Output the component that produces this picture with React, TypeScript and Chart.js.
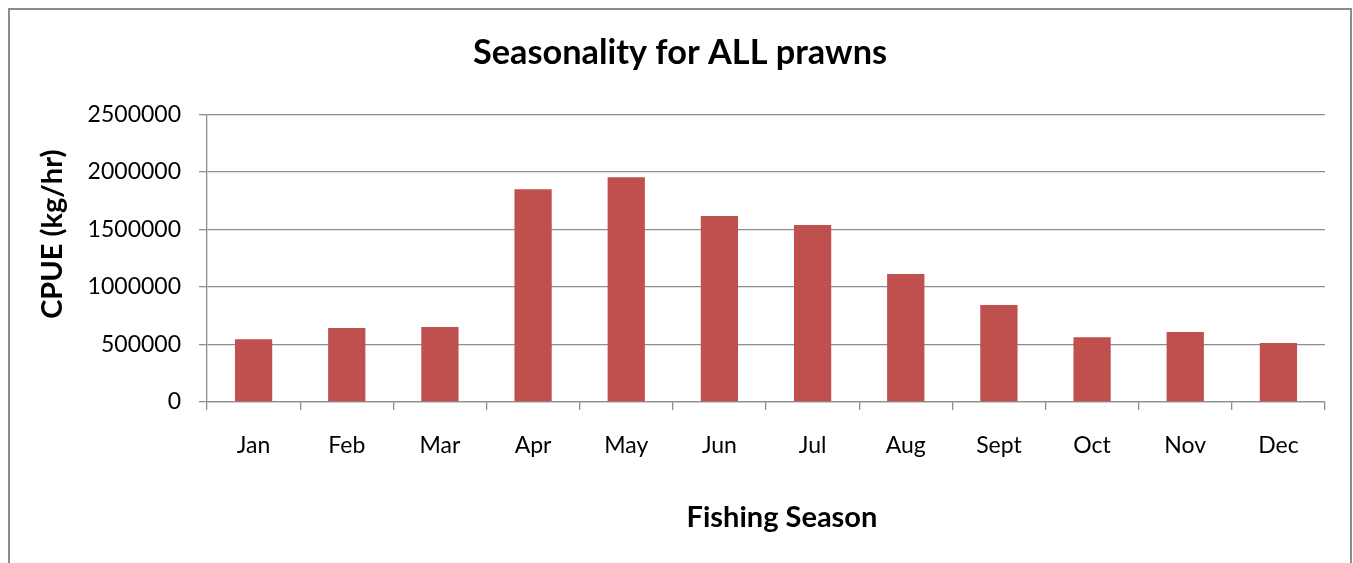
import React, { useEffect, useRef } from "react";
import { Chart, registerables } from "chart.js";

Chart.register(...registerables);

// Monthly catch per unit effort for all prawn species
const months = ["Jan", "Feb", "Mar", "Apr", "May", "Jun", "Jul", "Aug", "Sept", "Oct", "Nov", "Dec"];
const cpue = [545000, 643000, 652000, 1850000, 1954000, 1617000, 1539000, 1113000, 843000, 563000, 609000, 513000];
const yTicks = [0, 500000, 1000000, 1500000, 2000000, 2500000];

const chartTitle = "Seasonality for ALL prawns";
const xTitle = "Fishing Season";
const yTitle = "CPUE (kg/hr)";

const FONT = "Lato, 'Open Sans', sans-serif";
const BAR = "#C0504D";
const GRID = "#8e8e8e";

// Axis titles are placed relative to the plot area
const axisTitles = {
  id: "axisTitles",
  afterDraw(chart: any) {
    const { ctx, chartArea } = chart;
    ctx.save();
    ctx.fillStyle = "#000";
    ctx.font = `bold 29px ${FONT}`;
    ctx.textAlign = "center";
    ctx.textBaseline = "alphabetic";
    ctx.fillText(xTitle, (chartArea.left + chartArea.right) / 2 + 16, chartArea.bottom + 125);
    ctx.translate(chartArea.left - 145.5, (chartArea.top + chartArea.bottom) / 2 - 24);
    ctx.rotate(-Math.PI / 2);
    ctx.fillText(yTitle, 0, 0);
    ctx.restore();
  },
};

export default function App() {
  const canvasRef = useRef<HTMLCanvasElement | null>(null);

  useEffect(() => {
    const canvas = canvasRef.current;
    if (!canvas) return;
    const chart = new Chart(canvas, {
      type: "bar",
      data: {
        labels: months,
        datasets: [
          {
            data: cpue,
            backgroundColor: BAR,
            borderWidth: 0,
            barPercentage: 0.4,
            categoryPercentage: 1.0,
          },
        ],
      },
      options: {
        responsive: false,
        animation: false,
        layout: { padding: { left: 25, right: 25, top: 0, bottom: 0 } },
        plugins: {
          legend: { display: false },
          tooltip: { enabled: false },
          title: {
            display: true,
            text: chartTitle,
            color: "#000",
            font: { family: FONT, size: 34.3, weight: "bold", lineHeight: 1.2 },
            padding: { top: 22, bottom: 41.3 },
          },
        },
        scales: {
          x: {
            grid: {
              display: true,
              drawOnChartArea: false,
              drawTicks: true,
              tickLength: 8,
              color: GRID,
              lineWidth: 1.3,
            },
            border: { display: true, color: GRID, width: 1.3 },
            ticks: {
              color: "#000",
              font: { family: FONT, size: 23 },
              padding: 22,
              maxRotation: 0,
              autoSkip: false,
            },
            afterFit(scale: any) {
              scale.height = 174;
            },
          },
          y: {
            min: 0,
            max: 2500000,
            afterBuildTicks(scale: any) {
              scale.ticks = yTicks.map((v) => ({ value: v }));
            },
            grid: {
              display: true,
              drawTicks: true,
              tickLength: 8,
              color: GRID,
              lineWidth: 1.3,
            },
            border: { display: true, color: GRID, width: 1.3 },
            ticks: {
              color: "#000",
              font: { family: FONT, size: 23 },
              padding: 18,
              callback: (v: any) => String(v),
            },
            afterFit(scale: any) {
              scale.width = 172;
            },
          },
        },
      },
      plugins: [axisTitles],
    });
    return () => chart.destroy();
  }, []);

  return (
    <div
      style={{
        position: "fixed",
        left: 8,
        top: 8,
        width: 1344,
        height: 580,
        boxSizing: "border-box",
        border: "2px solid #8c8c8c",
        background: "#fff",
      }}
    >
      <canvas ref={canvasRef} width={1340} height={566} style={{ display: "block" }} />
    </div>
  );
}
